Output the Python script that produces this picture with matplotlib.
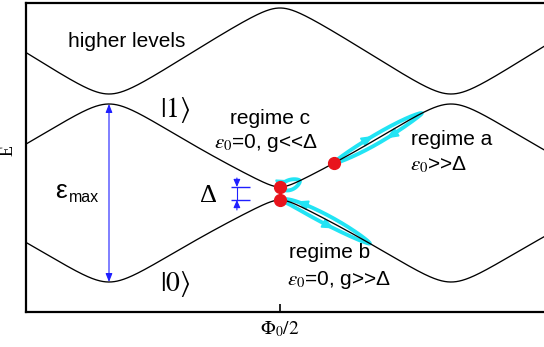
import numpy as np
import matplotlib
matplotlib.use("Agg")
import matplotlib.pyplot as plt

plt.rcParams["mathtext.fontset"] = "stix"
plt.rcParams["font.family"] = ["Liberation Sans", "DejaVu Sans"]

# Energy of each level at integer flux and at half flux quantum (arb. units)
level_names = ["|0>", "|1>", "higher"]
energy_at_integer_flux = [30.0, 208.0, 218.0]
energy_at_half_flux = [112.0, 125.0, 304.0]
# curvature of the rounded extrema (closer to 1 = sharper)
rounding_integer = [0.92, 0.92, 0.92]
rounding_half = [0.978, 0.978, 0.94]

flux_range = (-0.2427, 1.2749)
energy_range = (0.0, 309.0)

# operating points (flux) and extent of the driven trajectories
point_a = 0.658
loop_a_end = 0.915
loop_b_end = 0.763
loop_c_end = 0.558

BLACK = "black"
BLUE = "#1f1fff"
CYAN = "#22e4f4"
RED = "#e8141c"


def _soft_triangle(theta, r):
    v = np.arccos(-r * np.cos(theta))
    top = np.arccos(-r)
    bot = np.arccos(r)
    return (v - bot) / (top - bot)


def level(phi, i):
    """Periodic energy band: rounded triangle between its two extrema."""
    th = 2 * np.pi * np.asarray(phi, dtype=float)
    w = 0.5 * (1 + np.cos(th))
    h = (w * _soft_triangle(th, rounding_integer[i])
         + (1 - w) * _soft_triangle(th, rounding_half[i]))
    lo, hi = energy_at_half_flux[i], energy_at_integer_flux[i]
    return lo + (hi - lo) * h


fig = plt.figure(figsize=(5.44, 3.47), dpi=100)
ax = fig.add_axes([26 / 544, 35 / 347, 526 / 544, 309 / 347])
ax.set_xlim(flux_range[0], flux_range[0] + (flux_range[1] - flux_range[0]) * 526 / 519)
ax.set_ylim(*energy_range)

phi = np.linspace(flux_range[0], flux_range[1] + 0.05, 1500)


def trajectory(phi0, phi1, which, half_width, arrows):
    ph = np.linspace(phi0, phi1, 120)
    E = level(ph, which)
    P = ax.transData.transform(np.column_stack([ph, E]))
    d = np.gradient(P, axis=0)
    t = d / np.linalg.norm(d, axis=1)[:, None]
    nrm = np.column_stack([-t[:, 1], t[:, 0]])
    s = np.linspace(0, 1, len(ph))
    w = half_width * np.sin(np.pi * s) ** 0.6
    upper = P + nrm * w[:, None]
    lower = P - nrm * w[:, None]
    path = np.vstack([upper, lower[::-1]])
    data = ax.transData.inverted().transform(path)
    ax.plot(data[:, 0], data[:, 1], color=CYAN, lw=2.8, zorder=2,
            solid_joinstyle="round")
    for side, frac, forward in arrows:
        arr = upper if side == "u" else lower
        k = int(frac * (len(ph) - 1))
        a, b = (arr[k - 3], arr[k + 3]) if forward else (arr[k + 3], arr[k - 3])
        a, b = ax.transData.inverted().transform([a, b])
        ax.annotate("", xy=b, xytext=a,
                    arrowprops=dict(arrowstyle="-|>,head_length=0.7,head_width=0.3",
                                    color=CYAN, lw=1.2, shrinkA=0, shrinkB=0),
                    zorder=3)


trajectory(point_a, loop_a_end, 1, 4.5, [("u", 0.45, True), ("l", 0.6, False)])
trajectory(0.5, loop_b_end, 0, 4.5, [("u", 0.2, False), ("l", 0.6, True)])
trajectory(0.5, loop_c_end, 1, 5.0, [("u", 0.5, True)])

for i in range(3):
    ax.plot(phi, level(phi, i), color=BLACK, lw=0.95, zorder=4)

# epsilon_max arrow at integer flux
ax.annotate("", xy=(0.0, level(0.0, 1)), xytext=(0.0, level(0.0, 0)),
            arrowprops=dict(arrowstyle="<|-|>,head_length=0.5,head_width=0.2",
                            color=BLUE, lw=0.8, shrinkA=0, shrinkB=0), zorder=5)

# Delta marker at half flux
lo5, hi5 = level(0.5, 0), level(0.5, 1)
ax.hlines([lo5, hi5], 0.357, 0.412, color=BLUE, lw=1.0, zorder=5)
xd = 0.374
for start, end in ((hi5 + 9, hi5), (lo5 - 10, lo5)):
    ax.annotate("", xy=(xd, end), xytext=(xd, start),
                arrowprops=dict(arrowstyle="-|>,head_length=0.45,head_width=0.2",
                                color=BLUE, lw=0.8, shrinkA=0, shrinkB=0), zorder=5)
ax.plot([xd, xd], [lo5, hi5], color=BLUE, lw=0.8, zorder=5)

# operating points
ax.plot([0.5, 0.5, point_a], [lo5, hi5, level(point_a, 1)],
        "o", color=RED, ms=8.5, mec=RED, zorder=6)


def px(x, y):
    return ((x - 109) / 342.0, 312.0 - y)


ax.text(*px(68, 47), "higher levels", fontsize=15, ha="left", va="baseline")
ax.text(*px(160, 110), r"$|1\rangle$", fontsize=20, ha="left", va="center")
ax.text(*px(160, 284), r"$|0\rangle$", fontsize=20, ha="left", va="center")
ax.text(*px(55, 198), "ε", fontsize=19, ha="left", va="baseline")
ax.text(*px(69, 202), "max", fontsize=11.5, ha="left", va="baseline")
ax.text(*px(200, 202), "Δ", fontsize=19, family="Liberation Serif",
        ha="left", va="baseline")
ax.text(*px(230, 124), "regime c", fontsize=15, ha="left", va="baseline")
ax.text(*px(214, 148), r"$\varepsilon_0$=0, g<<Δ", fontsize=15, ha="left", va="baseline")
ax.text(*px(411, 145), "regime a", fontsize=15, ha="left", va="baseline")
ax.text(*px(410, 170), r"$\varepsilon_0$>>Δ", fontsize=15, ha="left", va="baseline")
ax.text(*px(289, 258), "regime b", fontsize=15, ha="left", va="baseline")
ax.text(*px(287, 285), r"$\varepsilon_0$=0, g>>Δ", fontsize=15, ha="left", va="baseline")

ax.set_xticks([0.5])
ax.set_xticklabels([r"$\Phi_0/2$"], fontsize=14)
ax.tick_params(axis="x", direction="in", length=6, width=1.2, pad=5)
ax.set_yticks([])
fig.text(8 / 544, 1 - 150 / 347, "E", rotation=90, fontsize=13,
         family="Liberation Serif", ha="center", va="center")
for sp in ax.spines.values():
    sp.set_linewidth(1.6)

fig.savefig("out.png", dpi=100)
